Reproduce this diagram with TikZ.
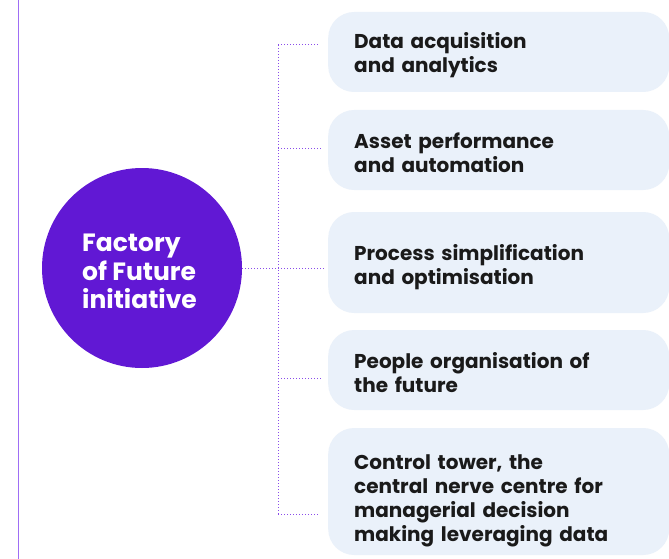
\documentclass[tikz,border=0pt]{standalone}
\usepackage{fontspec}
\setmainfont{Poppins}
\definecolor{hub}{HTML}{6118D4}
\definecolor{boxfill}{HTML}{EAF1FA}
\definecolor{dotline}{HTML}{8A4DEA}
\definecolor{rule}{HTML}{9F6EF5}
\definecolor{ink}{HTML}{1A1A1A}
\tikzset{
  hubnode/.style={circle, fill=hub, minimum size=200pt, inner sep=0pt},
  itembox/.style={rounded corners=26pt, fill=boxfill, anchor=west, minimum height=80pt,
    text width=289pt, inner xsep=26pt, inner ysep=0pt, align=left, text=ink,
    font=\fontsize{20}{24}\selectfont\bfseries},
  textdrop/.style={execute at begin node={\rule{0pt}{#1}}},
  conn/.style={draw=dotline, line width=1pt, dotted},
}
\begin{document}
\begin{tikzpicture}[x=1pt, y=-1pt]
\useasboundingbox (0,0) rectangle (669,559);
\fill[white] (0,0) rectangle (669,559);
\draw[rule, line width=1pt] (18,0) -- (18,559);
\node[hubnode] (c) at (142,268) {};
\node[anchor=north west, text=white, align=left, inner sep=0pt,
  font=\fontsize{25}{28.5}\selectfont\bfseries] (ct) at (82,234) {Factory\\of Future\\initiative};
\node[itembox, textdrop=23pt] (b1) at (328,52) {Data acquisition\\and analytics};
\node[itembox, textdrop=21pt] (b2) at (328,150) {Asset performance\\and automation};
\node[itembox, textdrop=25pt, minimum height=101pt] (b3) at (328,262.5) {Process simplification\\and optimisation};
\node[itembox, textdrop=21pt] (b4) at (328,370) {People organisation of\\the future};
\node[itembox, textdrop=33pt, minimum height=127pt] (b5) at (328,491.5) {Control tower, the\\central nerve centre for\\managerial decision\\making leveraging data};
\coordinate (t1) at (278,45);
\coordinate (t2) at (278,148);
\coordinate (t4) at (278,378);
\coordinate (t5) at (278,514);
\draw[conn] (t1) -- (t5);
\draw[conn] (c.east) -- (326,268);
\draw[conn, shorten >=10pt] (t1) -- (b1.west |- t1);
\draw[conn, shorten >=6pt] (t2) -- (b2.west |- t2);
\draw[conn, shorten >=6pt] (t4) -- (b4.west |- t4);
\draw[conn, shorten >=10pt] (t5) -- (b5.west |- t5);
\end{tikzpicture}
\end{document}
